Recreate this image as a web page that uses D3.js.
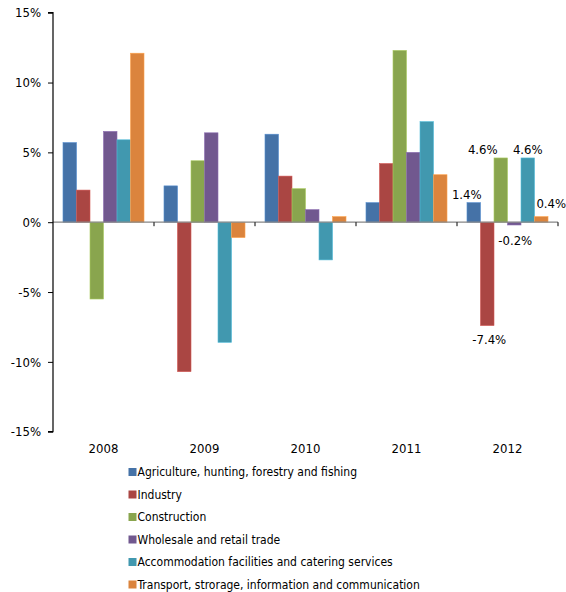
<!DOCTYPE html>
<html><head><meta charset="utf-8">
<script src="https://cdn.jsdelivr.net/npm/d3@7"></script>
<style>
body{margin:0;background:#fff;}
text{font-family:"DejaVu Sans Condensed","DejaVu Sans",sans-serif;fill:#000;}
</style></head>
<body>
<svg id="c" width="566" height="592"></svg>
<script>
const years = ["2008","2009","2010","2011","2012"];
const seriesNames = [
  "Agriculture, hunting, forestry and fishing",
  "Industry",
  "Construction",
  "Wholesale and retail trade",
  "Accommodation facilities and catering services",
  "Transport, strorage, information and communication"
];
const colors = ["#4572A7","#AA4643","#89A54E","#71588F","#4198AF","#DB843D"];
const agriculture   = [5.7, 2.6, 6.3, 1.4, 1.4];
const industry      = [2.3, -10.7, 3.3, 4.2, -7.4];
const construction  = [-5.5, 4.4, 2.4, 12.3, 4.6];
const wholesale     = [6.5, 6.4, 0.9, 5.0, -0.2];
const accommodation = [5.9, -8.6, -2.7, 7.2, 4.6];
const transport     = [12.1, -1.1, 0.4, 3.4, 0.4];
const seriesValues = [agriculture, industry, construction, wholesale, accommodation, transport];
const yTicks = [-15, -10, -5, 0, 5, 10, 15];
const labelledYear = "2012";
// label offsets (px) for the 2012 data labels
const labelDx = [-7, 2, -18, 1, 0, 10];
const labelDy = [-4, 18, -4, 20, -4, -9];

(function(){
const svg = d3.select("#c");
const mLeft = 53, mRight = 558, mTop = 12.7, mBottom = 431.7;
const x0 = d3.scaleBand().domain(years).range([mLeft, mRight]).paddingInner(0).paddingOuter(0);
const x1 = d3.scaleBand().domain(d3.range(6)).range([0, x0.bandwidth()]).paddingOuter(0.74).paddingInner(0);
const y = d3.scaleLinear().domain([-15, 15]).range([mBottom, mTop]);

seriesValues.forEach((vals, si) => {
  svg.append("g").selectAll("rect").data(vals.map((v, i) => ({v, yr: years[i]})))
    .enter().append("rect")
    .attr("x", d => x0(d.yr) + x1(si))
    .attr("width", x1.bandwidth())
    .attr("y", d => y(Math.max(0, d.v)))
    .attr("height", d => Math.abs(y(d.v) - y(0)))
    .attr("fill", colors[si])
    .attr("stroke", d3.color(colors[si]).brighter(0.6))
    .attr("stroke-width", 0.6);
});

svg.append("line").attr("x1", mLeft).attr("x2", mRight).attr("y1", y(0)).attr("y2", y(0))
  .attr("stroke", "#868686").attr("stroke-width", 1.2);
const bounds = years.map(yr => x0(yr) + x0.bandwidth());
svg.append("g").selectAll("line").data(bounds).enter().append("line")
  .attr("x1", d => d).attr("x2", d => d).attr("y1", y(0)).attr("y2", y(0) + 4)
  .attr("stroke", "#000").attr("stroke-width", 1);

const yAxis = d3.axisLeft(y).tickValues(yTicks).tickSize(5).tickFormat(d => d + "%");
const gy = svg.append("g").attr("transform", `translate(${mLeft},0)`).call(yAxis);
gy.select(".domain").attr("stroke", "#000").attr("stroke-width", 1.2).attr("d", `M-5,${mTop}H0V${mBottom}H-5`);
gy.selectAll(".tick line").attr("stroke", "#000");
gy.selectAll(".tick text").attr("x", -12).attr("font-size", 13)
  .style("font-family", "'DejaVu Sans Condensed','DejaVu Sans',sans-serif").attr("fill", "#000");

svg.append("g").selectAll("text").data(years).enter().append("text")
  .attr("x", d => x0(d) + x0.bandwidth() / 2).attr("y", 453)
  .attr("text-anchor", "middle").attr("font-size", 13).text(d => d);

const li = years.indexOf(labelledYear);
seriesValues.forEach((vals, si) => {
  const v = vals[li];
  const cx = x0(labelledYear) + x1(si) + x1.bandwidth() / 2 + labelDx[si];
  const ty = (v >= 0 ? y(v) : y(0) + Math.abs(y(v) - y(0))) + labelDy[si];
  svg.append("text").attr("x", cx).attr("y", ty).attr("text-anchor", "middle")
    .attr("font-size", 13).text(v.toFixed(1) + "%");
});

const lg = svg.append("g");
seriesNames.forEach((n, i) => {
  const cy = 472 + i * 22.5;
  lg.append("rect").attr("x", 128.5).attr("y", cy - 4).attr("width", 8).attr("height", 8).attr("fill", colors[i]);
  lg.append("text").attr("x", 137.5).attr("y", cy + 4.3).attr("font-size", 12).text(n);
});
})();
</script>
</body></html>
